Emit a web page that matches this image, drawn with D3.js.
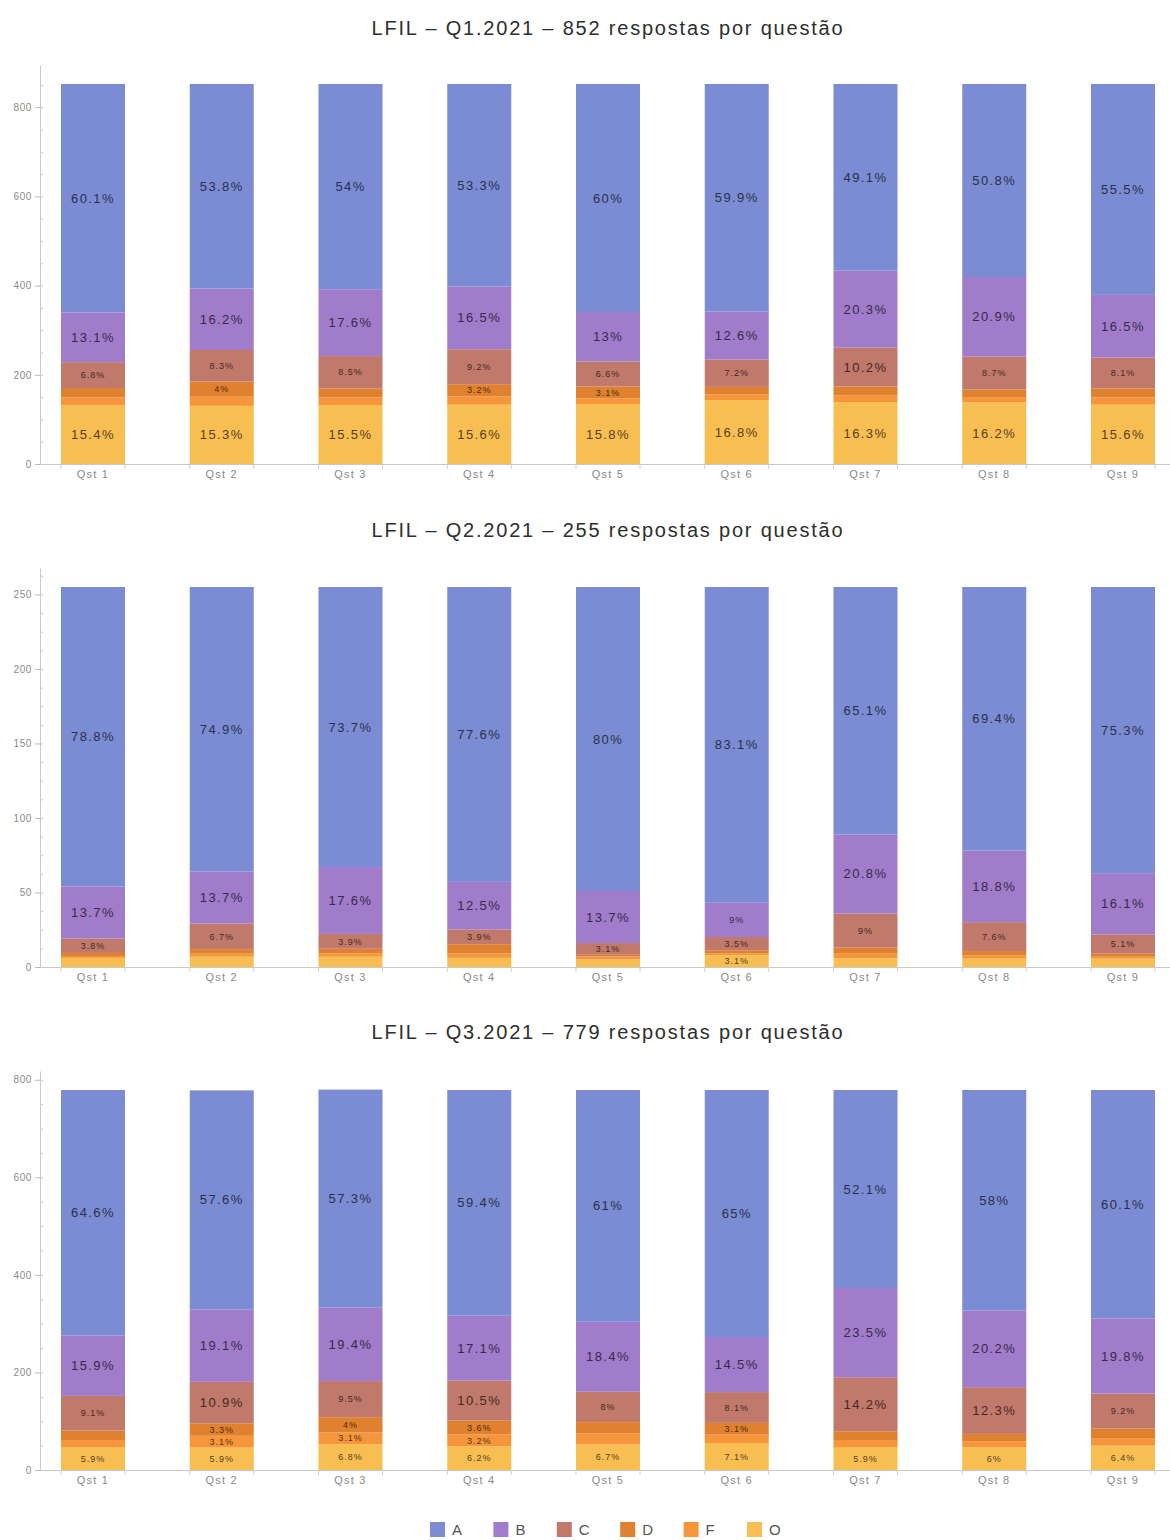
<!DOCTYPE html>
<html>
<head>
<meta charset="utf-8">
<script src="https://cdn.jsdelivr.net/npm/d3@7"></script>
<style>
  html, body { margin: 0; padding: 0; background: #fff; }
  svg { display: block; font-family: "Liberation Sans", Arial, sans-serif; }
</style>
</head>
<body>
<svg id="chart" width="1170" height="1540"></svg>
<script>
// ---------- data ----------
const categories = ["Qst 1","Qst 2","Qst 3","Qst 4","Qst 5","Qst 6","Qst 7","Qst 8","Qst 9"];
const seriesKeys = ["A","B","C","D","F","O"];
const seriesColors = ["#7b8cd4","#a07ccb","#c0796a","#e0812f","#f7953a","#f8be52"];
const periods = ["Q1.2021","Q2.2021","Q3.2021"];
const totals = [852, 255, 779];
const yTicks1 = [0,200,400,600,800];
const yTicks2 = [0,50,100,150,200,250];
const yTicks3 = [0,200,400,600,800];

// percentages per answer (Q1.2021)
const q1A = [60.1,53.8,54.0,53.3,60.0,59.9,49.1,50.8,55.5];
const q1B = [13.1,16.2,17.6,16.5,13.0,12.6,20.3,20.9,16.5];
const q1C = [6.8,8.3,8.5,9.2,6.6,7.2,10.2,8.7,8.1];
const q1D = [2.5,4.0,2.4,3.2,3.1,2.0,2.3,2.0,2.4];
const q1F = [2.1,2.4,2.0,2.2,1.5,1.5,1.8,1.4,1.9];
const q1O = [15.4,15.3,15.5,15.6,15.8,16.8,16.3,16.2,15.6];

// Q2.2021
const q2A = [78.8,74.9,73.7,77.6,80.0,83.1,65.1,69.4,75.3];
const q2B = [13.7,13.7,17.6,12.5,13.7,9.0,20.8,18.8,16.1];
const q2C = [3.8,6.7,3.9,3.9,3.1,3.5,9.0,7.6,5.1];
const q2D = [0.8,1.2,1.2,2.4,0.4,0.8,1.6,1.2,0.8];
const q2F = [0.5,0.8,0.9,1.2,0.8,0.5,1.2,0.8,0.5];
const q2O = [2.4,2.7,2.7,2.4,2.0,3.1,2.3,2.2,2.2];

// Q3.2021
const q3A = [64.6,57.6,57.3,59.4,61.0,65.0,52.1,58.0,60.1];
const q3B = [15.9,19.1,19.4,17.1,18.4,14.5,23.5,20.2,19.8];
const q3C = [9.1,10.9,9.5,10.5,8.0,8.1,14.2,12.3,9.2];
const q3D = [2.5,3.3,4.0,3.6,3.0,3.1,2.3,1.9,2.5];
const q3F = [2.0,3.1,3.1,3.2,2.9,2.2,2.0,1.6,2.0];
const q3O = [5.9,5.9,6.8,6.2,6.7,7.1,5.9,6.0,6.4];

const chartData = [
  {A:q1A,B:q1B,C:q1C,D:q1D,F:q1F,O:q1O, ticks:yTicks1},
  {A:q2A,B:q2B,C:q2C,D:q2D,F:q2F,O:q2O, ticks:yTicks2},
  {A:q3A,B:q3B,C:q3C,D:q3D,F:q3F,O:q3O, ticks:yTicks3}
];

// ---------- drawing ----------
const svg = d3.select("#chart");
const color = d3.scaleOrdinal().domain(seriesKeys).range(seriesColors);
const x = d3.scalePoint().domain(categories).range([93, 1123]);
const barW = 64;
const axisX = 40;
const plotH = 399;
const bottoms = [464, 967, 1470];
const titleYs = [35, 537, 1039];
const fmtPct = v => (+v.toFixed(1)) + "%";

chartData.forEach((cd, ci) => {
  const N = totals[ci];
  const bottom = bottoms[ci];
  const y = d3.scaleLinear().domain([0, N * 1.05]).range([bottom, bottom - plotH]);
  const g = svg.append("g");

  // title
  g.append("text")
    .attr("x", 608).attr("y", titleYs[ci])
    .attr("text-anchor", "middle")
    .attr("font-size", 20).attr("letter-spacing", "1.8px").attr("fill", "#2e2e2e")
    .text(`LFIL \u2013 ${periods[ci]} \u2013 ${N} respostas por quest\u00e3o`);

  // rows for stacking (counts)
  const rows = categories.map((c, i) => {
    const r = {cat: c};
    seriesKeys.forEach(k => { r[k] = cd[k][i] * N / 100; r[k + "_p"] = cd[k][i]; });
    return r;
  });
  const stack = d3.stack().keys(seriesKeys.slice().reverse());
  const layers = stack(rows);

  layers.forEach(layer => {
    const key = layer.key;
    const lg = g.append("g");
    lg.selectAll("rect").data(layer).join("rect")
      .attr("x", d => x(d.data.cat) - barW / 2)
      .attr("y", d => y(d[1]))
      .attr("width", barW)
      .attr("height", d => y(d[0]) - y(d[1]))
      .attr("fill", color(key));
    const labCol = d3.color(color(key)).darker(3).formatHex();
    lg.selectAll("text").data(layer.filter(d => d.data[key + "_p"] >= 3.05)).join("text")
      .attr("x", d => x(d.data.cat))
      .attr("y", d => (y(d[0]) + y(d[1])) / 2)
      .attr("dy", "0.35em")
      .attr("text-anchor", "middle")
      .attr("font-size", d => d.data[key + "_p"] >= 10 ? 13 : 9)
      .attr("letter-spacing", d => d.data[key + "_p"] >= 10 ? "1.4px" : "1px")
      .attr("fill", labCol)
      .text(d => fmtPct(d.data[key + "_p"]));
  });

  // y axis
  const step = cd.ticks[1] - cd.ticks[0];
  const minor = d3.range(0, N * 1.05, step / 4);
  g.append("g").attr("transform", `translate(${axisX},0)`)
    .call(d3.axisLeft(y).tickValues(minor).tickSize(-3).tickFormat(""))
    .call(a => a.select(".domain").remove())
    .call(a => a.selectAll("line").attr("stroke", "#c9c9d6"));
  const ya = g.append("g").attr("transform", `translate(${axisX},0)`)
    .call(d3.axisLeft(y).tickValues(cd.ticks).tickSize(5).tickSizeOuter(0).tickPadding(3));
  ya.select(".domain").attr("stroke", "#c9c9d6");
  ya.selectAll(".tick line").attr("stroke", "#b8b8c8");
  ya.selectAll(".tick text").attr("fill", "#8a8a8a").attr("font-size", 10)
    .attr("letter-spacing", "0.6px")
    .attr("font-family", "Liberation Sans, Arial, sans-serif");

  // x axis
  g.append("line").attr("x1", axisX).attr("x2", 1170)
    .attr("y1", bottom + 0.5).attr("y2", bottom + 0.5)
    .attr("stroke", "#c9c9c9");
  const edges = categories.flatMap(c => [x(c) - barW / 2, x(c) + barW / 2]);
  g.selectAll(".xt").data(edges).join("line")
    .attr("x1", d => d).attr("x2", d => d)
    .attr("y1", bottom).attr("y2", bottom + 5)
    .attr("stroke", "#cfcfcf");
  g.selectAll(".xl").data(categories).join("text")
    .attr("x", d => x(d)).attr("y", bottom + 14)
    .attr("text-anchor", "middle")
    .attr("font-size", 11).attr("letter-spacing", "1.2px").attr("fill", "#8a8a8a")
    .text(d => d);
});

// legend
const legX = d3.scalePoint().domain(seriesKeys).range([430, 747]);
const leg = svg.append("g");
seriesKeys.forEach(k => {
  leg.append("rect").attr("x", legX(k)).attr("y", 1522).attr("width", 15).attr("height", 15)
    .attr("fill", color(k));
  leg.append("text").attr("x", legX(k) + 22).attr("y", 1535)
    .attr("font-size", 15).attr("fill", "#555").text(k);
});
</script>
</body>
</html>
